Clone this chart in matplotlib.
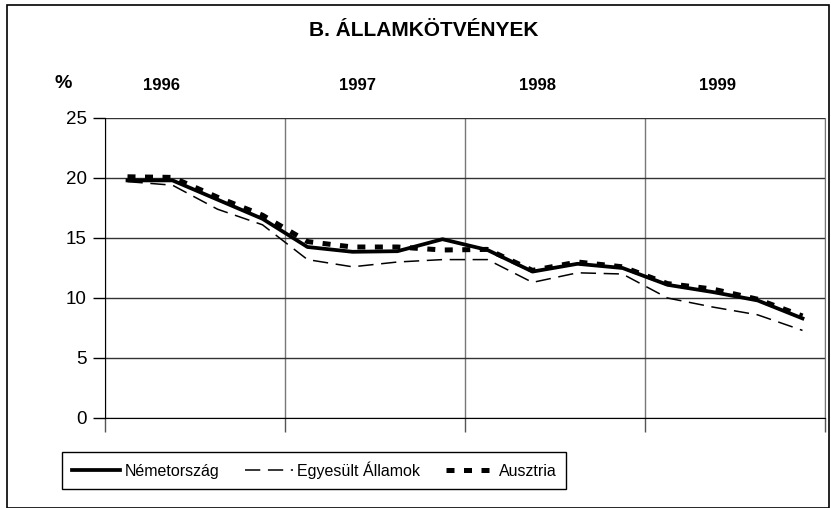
import matplotlib.pyplot as plt
import numpy as np

# negyedéves adatok, 1996 Q1 - 1999 Q4
years = ['1996', '1997', '1998', '1999']
nemet = [19.8, 19.8, 18.2, 16.6, 14.25, 13.85, 13.9, 14.9,
         14.0, 12.2, 12.85, 12.5, 11.1, 10.5, 9.8, 8.3]
usa = [19.7, 19.4, 17.4, 16.1, 13.2, 12.6, 13.0, 13.2,
       13.2, 11.3, 12.1, 12.0, 10.0, 9.25, 8.6, 7.3]
ausztria = [20.1, 20.05, 18.4, 16.9, 14.7, 14.25, 14.25, 14.0,
            14.05, 12.3, 13.0, 12.6, 11.2, 10.75, 9.9, 8.5]
labels = ['Németország', 'Egyesült Államok', 'Ausztria']

plt.rcParams['font.family'] = ['Liberation Sans', 'DejaVu Sans']

W, H = 831, 508
fig = plt.figure(figsize=(W / 100, H / 100), dpi=100)

# keret a teljes ábra körül
fig.patches.append(plt.Rectangle((7 / W, 0), 822 / W, 1 - 5 / H, transform=fig.transFigure,
                                 fill=False, edgecolor='black', linewidth=1.2))

ax = fig.add_axes([105 / W, 1 - 418 / H, 720 / W, 300 / H])
x = np.arange(len(nemet)) + 0.5

l1, = ax.plot(x, nemet, color='black', linewidth=2.7)
l2, = ax.plot(x, usa, color='black', linewidth=1.1, dashes=(10, 5))
l3, = ax.plot(x, ausztria, color='black', linewidth=3.6, dashes=(1.6, 1.9))

ax.set_xlim(0, 16)
ax.set_ylim(0, 25)
ax.set_yticks(np.arange(0, 26, 5))
ax.set_xticks([0, 4, 8, 12, 16])
ax.set_xticklabels([])
ax.tick_params(axis='y', length=9, width=1, labelsize=13.5, pad=4)
ax.tick_params(axis='x', length=10, width=1, color='#555555')
ax.grid(axis='y', color='#333333', linewidth=1)
ax.grid(axis='x', color='#777777', linewidth=1)
ax.set_axisbelow(True)
ax.spines['top'].set_visible(False)
ax.spines['right'].set_color('#777777')

fig.text(424 / W, 1 - 30 / H, 'B. ÁLLAMKÖTVÉNYEK', ha='center', va='center',
         fontsize=15, fontweight='bold')
fig.text(63 / W, 1 - 84 / H, '%', ha='center', va='center', fontsize=14, fontweight='bold')
year_x = [162, 358, 538, 718]
for yx, yl in zip(year_x, years):
    fig.text(yx / W, 1 - 86 / H, yl, ha='center', va='center', fontsize=12, fontweight='bold')

leg = fig.legend([l1, l2, l3], labels, ncol=3, loc='upper left',
                 bbox_to_anchor=(62 / W, 1 - 452 / H), bbox_transform=fig.transFigure,
                 fancybox=False, edgecolor='black', framealpha=1, fontsize=11.5,
                 handlelength=3.0, handletextpad=0.3, columnspacing=1.6,
                 borderpad=0.6, borderaxespad=0)
leg.get_frame().set_linewidth(1)

fig.savefig('out.png', dpi=100)
